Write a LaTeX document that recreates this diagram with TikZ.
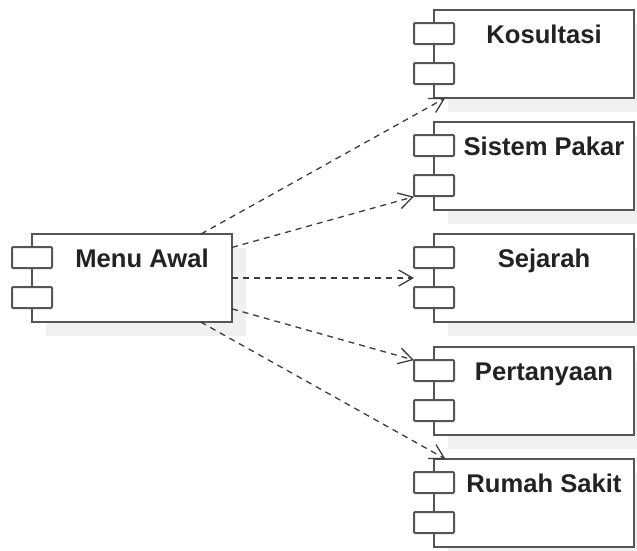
\documentclass[tikz,border=0pt]{standalone}
\usepackage{fontspec}
\setmainfont{Liberation Sans}
\usetikzlibrary{arrows.meta}

\definecolor{edgegray}{RGB}{85,85,85}
\definecolor{shadowgray}{RGB}{240,240,240}
\definecolor{textdark}{RGB}{34,34,34}
\definecolor{linkgray}{RGB}{60,60,60}

\tikzset{
  compbound/.style={rectangle, draw=none, minimum width=220pt, minimum height=88pt,
    inner sep=0pt, outer sep=0pt, anchor=north west},
  compbody/.style={draw=edgegray, line width=2pt, fill=white},
  compshadow/.style={fill=shadowgray, draw=none},
  compport/.style={draw=edgegray, line width=2pt, fill=white, rounded corners=1pt},
  complabel/.style={anchor=base, font=\fontsize{25.6}{30}\selectfont\bfseries,
    text=textdark, inner sep=0pt},
  dependency/.style={draw=linkgray, line width=1.3pt, dash pattern=on 6pt off 5pt,
    -{Straight Barb[length=14pt,width=16pt,line width=1.3pt]}},
}

% UML component: name, left x, top y, label
\newcommand{\umlcomponent}[4]{%
  \node[compbound] (#1) at (#2,#3) {};
  \fill[compshadow] ([shift={(34pt,-14pt)}]#1.north west) rectangle ([shift={(14pt,-14pt)}]#1.south east);
  \draw[compbody] ([xshift=20pt]#1.north west) rectangle (#1.south east);
  \draw[compport] ([yshift=-13pt]#1.north west) rectangle ([shift={(40pt,-34pt)}]#1.north west);
  \draw[compport] ([yshift=-53pt]#1.north west) rectangle ([shift={(40pt,-74pt)}]#1.north west);
  \node[complabel] (#1-label) at ([shift={(130pt,-33pt)}]#1.north west) {#4};
}

\begin{document}
\begin{tikzpicture}[x=1pt, y=-1pt]
  \useasboundingbox (0,0) rectangle (637,550);

  \umlcomponent{menu}{12}{234}{Menu Awal}
  \umlcomponent{kos}{414}{10}{Kosultasi}
  \umlcomponent{pakar}{414}{122}{Sistem Pakar}
  \umlcomponent{sejarah}{414}{234}{Sejarah}
  \umlcomponent{tanya}{414}{347}{Pertanyaan}
  \umlcomponent{rs}{414}{459}{Rumah Sakit}

  \draw[dependency] (menu) -- (kos);
  \draw[dependency] (menu) -- (pakar);
  \draw[dependency] (menu) -- (sejarah);
  \draw[dependency] (menu) -- (tanya);
  \draw[dependency] (menu) -- (rs);
\end{tikzpicture}
\end{document}
